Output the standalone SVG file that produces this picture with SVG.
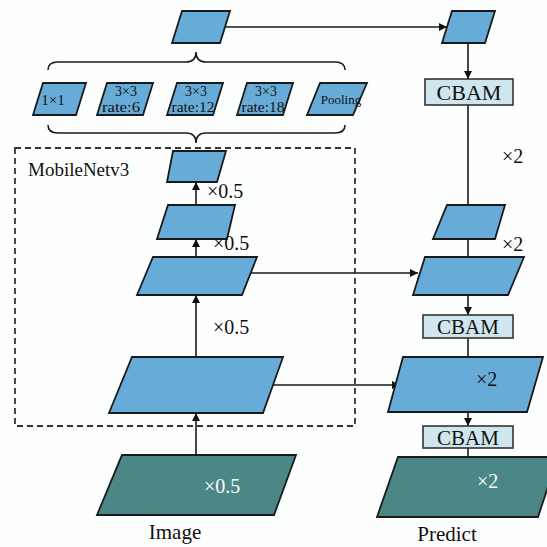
<svg xmlns="http://www.w3.org/2000/svg" width="547" height="547" viewBox="0 0 547 547">
<defs>
<marker id="ah" viewBox="0 0 10 10" refX="10" refY="5" markerWidth="9" markerHeight="8" orient="auto" markerUnits="userSpaceOnUse">
<path d="M0,0 L10,5 L0,10 z" fill="#111"/>
</marker>
<style>
.b{fill:#67acd8;stroke:#1a1a1a;stroke-width:1.8}
.t{fill:#4a8786;stroke:#1a1a1a;stroke-width:1.8}
.c{fill:#cfe6ee;stroke:#333;stroke-width:1.6}
.l{fill:none;stroke:#1a1a1a;stroke-width:1.6}
.a{fill:none;stroke:#1a1a1a;stroke-width:1.6;marker-end:url(#ah)}
.tx{font-family:"Liberation Serif","Times New Roman",serif;fill:#111}
.s{font-size:14px}
.m{font-size:20px}
.w{fill:#fff}
</style>
</defs>
<rect width="547" height="547" fill="#fdfefe"/>
<g id="connectors">
<path class="a" d="M226,27 L447,27"/>
<path class="a" d="M468,43 L468,79"/>
<path class="a" d="M468,105 L468,228"/>
<path class="a" d="M468,239 L468,273"/>
<path class="a" d="M468,295 L468,315"/>
<path class="a" d="M468,338 L468,398"/>
<path class="a" d="M468,412 L468,426"/>
<path class="a" d="M468,448 L468,493"/>
<path class="a" d="M250,273 L418,273"/>
<path class="a" d="M270,385 L400,385"/>
<path class="a" d="M196,482 L196,413"/>
<path class="a" d="M196,385 L196,295"/>
<path class="a" d="M196,273 L196,239"/>
<path class="a" d="M196,218 L196,182"/>
<path class="l" d="M48,70 Q48,62 58,62 L186,62 Q196,62 196,52 Q196,62 206,62 L335,62 Q345,62 345,70"/>
<path class="l" d="M48,125 Q48,133 58,133 L186,133 Q196,133 196,143 Q196,133 206,133 L335,133 Q345,133 345,125"/>
</g>
<g id="mobilenet">
<rect x="15" y="148" width="340" height="278" fill="none" stroke="#333" stroke-width="1.8" stroke-dasharray="6,4"/>
<text class="tx" x="28" y="176" font-size="19">MobileNetv3</text>
</g>
<g id="top"><polygon class="b" points="182,11 230,11 220,43 172,43"/></g>
<g id="top-right"><polygon class="b" points="452,11 495,11 485,43 442,43"/></g>
<g id="cbam1"><rect class="c" x="425" y="79" width="88" height="26"/><text class="tx" x="469" y="100" text-anchor="middle" font-size="22">CBAM</text></g>
<g id="aspp1"><polygon class="b" points="43,83 86,83 76,115 33,115"/><text class="tx" x="53" y="105" text-anchor="middle" font-size="15">1×1</text></g>
<g id="aspp2"><polygon class="b" points="107,83 153,83 143,115 97,115"/><text class="tx s" x="126" y="96" text-anchor="middle">3×3</text><text class="tx s" x="121" y="112" text-anchor="middle" textLength="38" lengthAdjust="spacingAndGlyphs">rate:6</text></g>
<g id="aspp3"><polygon class="b" points="177,83 223,83 213,115 167,115"/><text class="tx s" x="196" y="96" text-anchor="middle">3×3</text><text class="tx s" x="193" y="112" text-anchor="middle" textLength="43" lengthAdjust="spacingAndGlyphs">rate:12</text></g>
<g id="aspp4"><polygon class="b" points="247,83 293,83 283,115 237,115"/><text class="tx s" x="266" y="96" text-anchor="middle">3×3</text><text class="tx s" x="263" y="112" text-anchor="middle" textLength="43" lengthAdjust="spacingAndGlyphs">rate:18</text></g>
<g id="aspp5"><polygon class="b" points="320,83 367,83 353,115 307,115"/><text class="tx" x="341" y="104" text-anchor="middle" font-size="13">Pooling</text></g>
<g id="f1"><polygon class="b" points="173,151 226,151 217,182 167,182"/></g>
<g id="f2"><polygon class="b" points="168,205 235,205 227,239 157,239"/></g>
<g id="f3"><polygon class="b" points="153,257 257,257 242,295 137,295"/></g>
<g id="f4"><polygon class="b" points="132,357 283,357 263,413 109,413"/></g>
<g id="image"><polygon class="t" points="122,455 296,455 274,515 97,515"/><text class="tx" x="175" y="539" text-anchor="middle" font-size="21">Image</text></g>
<g id="r1"><polygon class="b" points="447,205 505,205 495,239 433,239"/></g>
<g id="r2"><polygon class="b" points="425,257 524,257 508,295 413,295"/></g>
<g id="cbam2"><rect class="c" x="423" y="315" width="90" height="23"/><text class="tx" x="468" y="334" text-anchor="middle" font-size="21">CBAM</text></g>
<g id="r3"><polygon class="b" points="403,357 543,357 527,412 388,412"/></g>
<g id="cbam3"><rect class="c" x="423" y="426" width="90" height="22"/><text class="tx" x="468" y="445" text-anchor="middle" font-size="21">CBAM</text></g>
<g id="predict"><polygon class="t" points="398,457 558,457 538,517 377,517"/><text class="tx" x="447" y="541" text-anchor="middle" font-size="21">Predict</text></g>
<g id="labels">
<text class="tx m" x="207" y="198">×0.5</text>
<text class="tx m" x="213" y="250">×0.5</text>
<text class="tx m" x="213" y="334">×0.5</text>
<text class="tx m w" x="204" y="493">×0.5</text>
<text class="tx m" x="502" y="163">×2</text>
<text class="tx m" x="502" y="251">×2</text>
<text class="tx m" x="476" y="386">×2</text>
<text class="tx m w" x="477" y="488">×2</text>
</g>
</svg>
